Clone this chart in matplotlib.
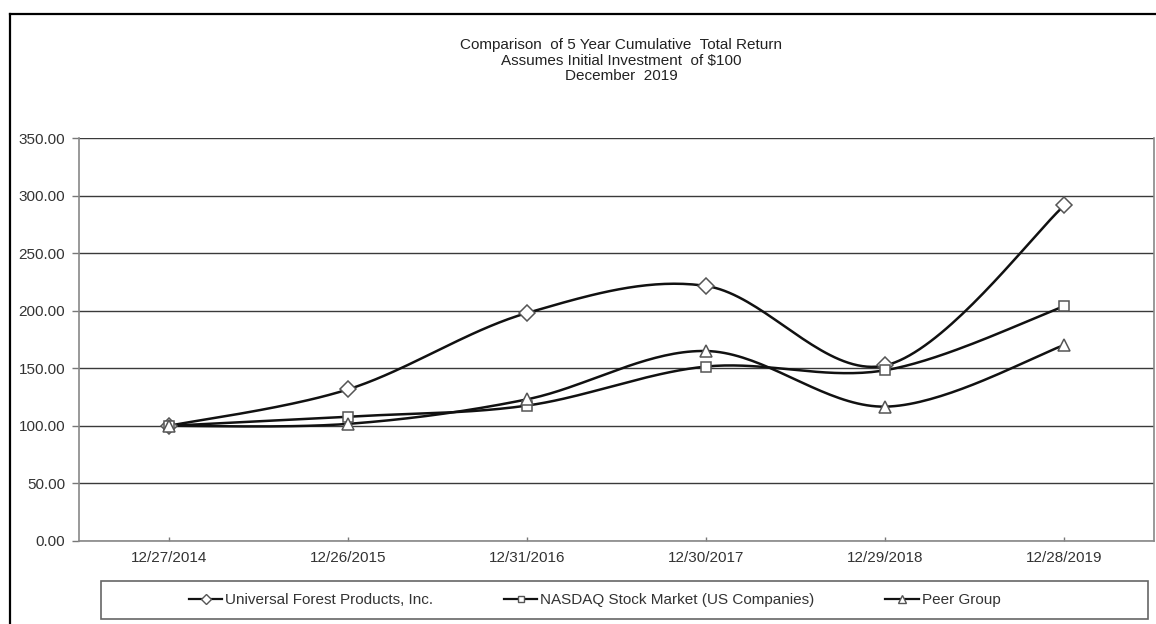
import matplotlib
matplotlib.use("Agg")
import matplotlib.pyplot as plt
import numpy as np
from matplotlib.lines import Line2D
from matplotlib.patches import Rectangle

dates = ["12/27/2014", "12/26/2015", "12/31/2016", "12/30/2017", "12/29/2018", "12/28/2019"]
ufp = [100.00, 131.60, 198.00, 221.50, 152.50, 291.50]
nasdaq = [100.00, 108.00, 117.60, 151.50, 148.30, 204.00]
peer = [100.00, 101.70, 123.00, 165.00, 116.70, 170.20]

names = ["Universal Forest Products, Inc.",
         "NASDAQ Stock Market (US Companies)",
         "Peer Group"]
markers = ["D", "s", "^"]
msizes = [8.0, 7.5, 9.0]

title_lines = ["Comparison  of 5 Year Cumulative  Total Return",
               "Assumes Initial Investment  of $100",
               "December  2019"]

W, H = 1156, 624
FONT = ["Liberation Sans", "DejaVu Sans"]
EDGE = "#555555"


def smooth(y, n=40):
    """Bezier-smoothed line through the points (office-style smoothed line)."""
    p = np.column_stack([np.arange(len(y), dtype=float), np.asarray(y, float)])
    ext = np.vstack([p[0], p, p[-1]])
    t = np.linspace(0, 1, n)[:, None]
    out = []
    for i in range(len(p) - 1):
        p0, p3 = ext[i + 1], ext[i + 2]
        c1 = p0 + (ext[i + 2] - ext[i]) / 6
        c2 = p3 - (ext[i + 3] - ext[i + 1]) / 6
        seg = ((1 - t) ** 3) * p0 + 3 * ((1 - t) ** 2) * t * c1 + 3 * (1 - t) * t ** 2 * c2 + t ** 3 * p3
        out.append(seg if i == 0 else seg[1:])
    seg = np.vstack(out)
    return seg[:, 0], seg[:, 1]


fig = plt.figure(figsize=(W / 100, H / 100), dpi=100)
fig.patch.set_facecolor("white")

# outer chart frame (only its top and left edges fall inside the canvas)
fig.add_artist(Line2D([10 / W, 10 / W], [0, 1 - 14 / H], transform=fig.transFigure,
                      color="black", lw=1.6))
fig.add_artist(Line2D([10 / W, 1], [1 - 14 / H, 1 - 14 / H], transform=fig.transFigure,
                      color="black", lw=1.6))

ax = fig.add_axes([79 / W, 1 - 541 / H, (1154 - 79) / W, (541 - 138) / H])
x = np.arange(len(dates))

for vals, mk, ms in zip([ufp, nasdaq, peer], markers, msizes):
    sx, sy = smooth(vals)
    ax.plot(sx, sy, color="#111111", lw=1.8, zorder=3)
    ax.plot(x, vals, ls="none", marker=mk, ms=ms, mfc="white", mec=EDGE, mew=1.1, zorder=4)

ax.set_xlim(-0.5, len(dates) - 0.5)
ax.set_ylim(0, 350)
ax.set_yticks(np.arange(0, 351, 50))
ax.set_yticklabels([f"{v:.2f}" for v in np.arange(0, 351, 50)], family=FONT, fontsize=11,
                   color="#333333")
ax.set_xticks(x)
ax.set_xticklabels(dates, family=FONT, fontsize=11, color="#333333")
ax.tick_params(axis="y", direction="out", length=5, width=1, color="#777777", pad=5)
ax.tick_params(axis="x", direction="in", length=3, width=1, color="#777777", pad=7)
ax.grid(axis="y", color="#3a3a3a", lw=1.0)
ax.set_axisbelow(True)
for s in ax.spines.values():
    s.set_color("#888888")
    s.set_linewidth(1.2)
ax.spines["top"].set_visible(False)

for i, line in enumerate(title_lines):
    fig.text(621 / W, 1 - (45 + 15.5 * i) / H, line, ha="center", va="center",
             family=FONT, fontsize=11, color="#222222")

# legend box along the bottom
fig.add_artist(Rectangle((101 / W, 1 - 619 / H), (1148 - 101) / W, 38 / H,
                         transform=fig.transFigure, fill=False, ec="#666666", lw=1.2))
handles = [Line2D([], [], color="#111111", lw=1.6, marker=mk, ms=ms * 0.6, mfc="white",
                  mec=EDGE, mew=1.0) for mk, ms in zip(markers, msizes)]
fig.legend(handles, names, loc="center left", bbox_to_anchor=(175 / W, 1 - 600 / H),
           ncol=3, frameon=False, handlelength=2.2, handletextpad=0.2, columnspacing=4.6,
           prop={"family": FONT, "size": 11})
for t in fig.legends[0].get_texts():
    t.set_color("#333333")

fig.savefig("out.png", dpi=100, facecolor="white")
